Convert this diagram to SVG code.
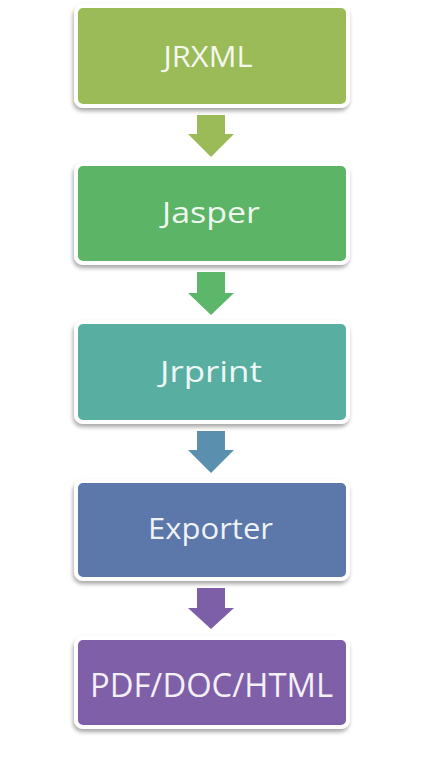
<svg xmlns="http://www.w3.org/2000/svg" width="428" height="760" viewBox="0 0 428 760">
<defs>
<filter id="sh" x="-10%" y="-10%" width="120%" height="130%">
<feGaussianBlur in="SourceAlpha" stdDeviation="2"/>
<feOffset dx="-1" dy="3" result="b"/>
<feComponentTransfer><feFuncA type="linear" slope="0.35"/></feComponentTransfer>
<feMerge><feMergeNode/><feMergeNode in="SourceGraphic"/></feMerge>
</filter>
</defs>
<style>
.box{stroke:#ffffff;stroke-width:4;filter:url(#sh)}
.lbl{font-family:"Open Sans","DejaVu Sans",sans-serif;font-size:30px;fill:#ffffff;fill-opacity:0.92;text-anchor:middle}
</style>
<rect width="428" height="760" fill="#ffffff"/>
<g id="connectors">
<polygon points="197,115 225,115 225,134 234,134 211,157 188,134 197,134" fill="#9bbb59"/>
<polygon points="197,272 225,272 225,293 234,293 211,315 188,293 197,293" fill="#5db76a"/>
<polygon points="197,431 225,431 225,450 234,450 211,473 188,450 197,450" fill="#5b8fae"/>
<polygon points="197,588 225,588 225,608 234,608 211,629 188,608 197,608" fill="#7d5fa8"/>
</g>
<g id="node-jrxml">
<rect class="box" x="76" y="6" width="272" height="100" rx="7" fill="#9bbb59"/>
<text class="lbl" x="208" y="67" textLength="89" lengthAdjust="spacingAndGlyphs">JRXML</text>
</g>
<g id="node-jasper">
<rect class="box" x="76" y="164" width="272" height="99" rx="7" fill="#5bb466"/>
<text class="lbl" x="211" y="223" textLength="98" lengthAdjust="spacingAndGlyphs">Jasper</text>
</g>
<g id="node-jrprint">
<rect class="box" x="76" y="322" width="272" height="100" rx="7" fill="#58afa1"/>
<text class="lbl" x="211" y="382" textLength="102" lengthAdjust="spacingAndGlyphs">Jrprint</text>
</g>
<g id="node-exporter">
<rect class="box" x="76" y="481" width="272" height="98" rx="7" fill="#5b77aa"/>
<text class="lbl" x="210.5" y="539" textLength="125" lengthAdjust="spacingAndGlyphs">Exporter</text>
</g>
<g id="node-output">
<rect class="box" x="76" y="638" width="272" height="89" rx="7" fill="#7f60a8"/>
<text class="lbl" x="211.5" y="697" textLength="243" lengthAdjust="spacingAndGlyphs" style="font-size:32px">PDF/DOC/HTML</text>
</g>
</svg>
